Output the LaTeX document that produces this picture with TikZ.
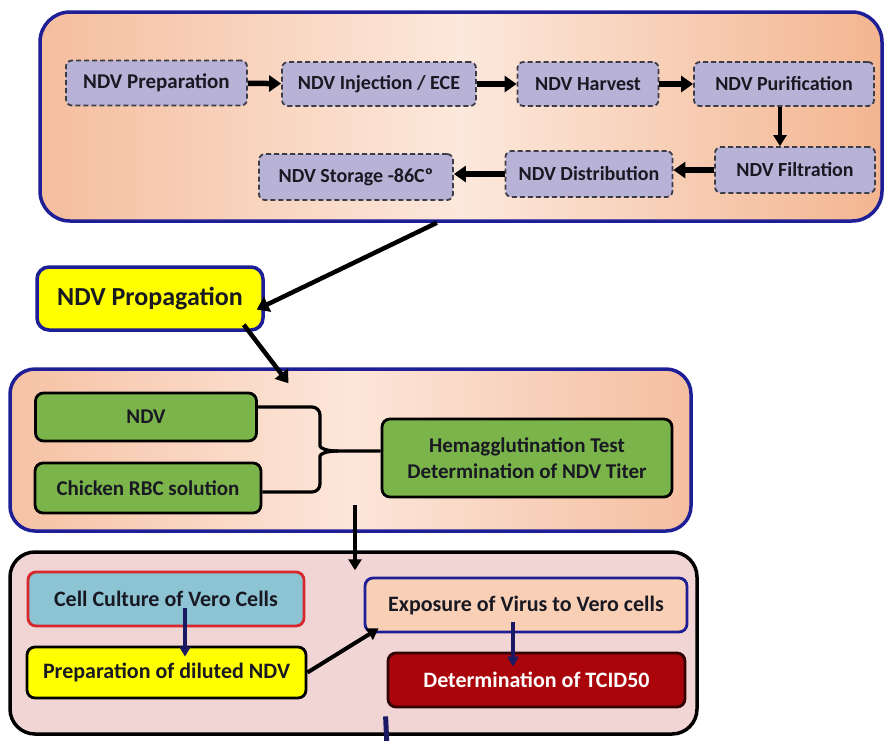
\documentclass[tikz,border=0pt]{standalone}
\usepackage{fontspec}
\setmainfont{Carlito}
\usetikzlibrary{arrows.meta,calc}
\definecolor{pblue}{RGB}{30,30,150}
\definecolor{lav}{RGB}{184,178,214}
\definecolor{dashgray}{RGB}{60,60,70}
\definecolor{txt}{RGB}{25,25,35}
\definecolor{gbox}{RGB}{122,180,74}
\definecolor{pinkbg}{RGB}{241,212,212}
\definecolor{cellblue}{RGB}{140,196,212}
\definecolor{cellred}{RGB}{215,40,45}
\definecolor{expofill}{RGB}{249,208,182}
\definecolor{tcidred}{RGB}{170,5,10}
\definecolor{navy}{RGB}{25,25,100}
\definecolor{propyel}{RGB}{255,255,0}
\definecolor{pL}{RGB}{245,190,158}
\definecolor{pM}{RGB}{252,232,220}
\definecolor{pR}{RGB}{243,181,144}
\definecolor{mL}{RGB}{246,194,164}
\definecolor{mM}{RGB}{252,230,218}
\definecolor{mR}{RGB}{245,190,160}
\begin{document}
\begin{tikzpicture}[x=1pt,y=-1pt,
  panel/.style={line width=3.5pt, inner sep=0pt},
  dbox/.style={draw=dashgray, dash pattern=on 5pt off 3pt, line width=1.8pt, fill=lav,
    rounded corners=6pt, inner sep=0pt, text=txt, font=\fontsize{20}{22}\selectfont\bfseries},
  gbx/.style={draw=black, line width=2.8pt, fill=gbox, rounded corners=8pt, inner sep=0pt,
    text=txt, font=\fontsize{21}{26}\selectfont\bfseries, align=center},
  bbx/.style={line width=2.8pt, rounded corners=8pt, inner sep=0pt,
    text=txt, font=\fontsize{22}{26}\selectfont\bfseries},
  thk/.style={line width=5.5pt, -{Triangle[length=12pt,width=16pt]}},
  mid arrow/.style={line width=4pt, -{Triangle[length=11pt,width=13pt]}},
  nv/.style={draw=navy, line width=4.5pt, -{Triangle[length=10pt,width=11pt]}},
]
\useasboundingbox (0,0) rectangle (885,740);
\fill[white] (0,0) rectangle (885,740);

% panels
\node[panel, draw=pblue, rounded corners=30pt, left color=pL, right color=pR, middle color=pM,
  minimum width=842pt, minimum height=209pt] (top) at (461,116.5) {};
\node[panel, draw=pblue, rounded corners=25pt, left color=mL, right color=mR, middle color=mM,
  minimum width=681pt, minimum height=162pt] (mid) at (350.5,450) {};
\node[panel, draw=black, rounded corners=25pt, fill=pinkbg,
  minimum width=687pt, minimum height=182pt] (bot) at (353.5,643) {};

% top row boxes
\node[dbox, minimum width=181pt, minimum height=45pt, font=\fontsize{21}{22}\selectfont\bfseries] (prep) at (156.5,83) {NDV Preparation};
\node[dbox, minimum width=194pt, minimum height=44pt] (inj) at (379,84) {NDV Injection / ECE};
\node[dbox, minimum width=141pt, minimum height=44pt] (harv) at (588,84) {NDV Harvest};
\node[dbox, minimum width=180pt, minimum height=44pt] (puri) at (784,84) {NDV Purification};
\node[dbox, minimum width=160pt, minimum height=46pt] (filt) at (795,170) {NDV Filtration};
\node[dbox, minimum width=167pt, minimum height=46pt] (dist) at (589,174) {NDV Distribution};
\node[dbox, minimum width=194pt, minimum height=46pt] (stor) at (356,177) {NDV Storage -86Cº};

\draw[thk] (prep) -- (inj);
\draw[thk] (inj) -- (harv);
\draw[thk] (harv) -- (puri);
\draw[mid arrow] (puri.south -| 780,0) -- (filt.north -| 780,0);
\draw[thk] (filt.west) -- (filt.west -| dist.east);
\draw[thk] (dist.west) -- (dist.west -| stor.east);

% propagation
\node[draw=pblue, line width=3.5pt, fill=propyel, rounded corners=12pt, inner sep=0pt,
  minimum width=226pt, minimum height=63pt, text=txt,
  font=\fontsize{26}{30}\selectfont\bfseries] (prop) at (150,298.5) {NDV Propagation};
\draw[thk, line width=4.5pt] ($(top.south west)!0.4715!(top.south east)$) -- ($(prop.east)+(-8,11)$);
\draw[thk, line width=4.5pt] ($(prop.south east)+(-21,-7)$) -- ($(mid.north)+(-62,16)$);

% middle panel
\node[gbx, minimum width=221pt, minimum height=48pt] (ndv) at (146,417) {NDV};
\node[gbx, minimum width=226pt, minimum height=50pt] (rbc) at (148,488) {Chicken RBC solution};
\node[gbx, minimum width=290pt, minimum height=78pt] (hem) at (527,458)
  {Hemagglutination Test\\Determination of NDV Titer};
\draw[line width=3.2pt, rounded corners=8pt] ($(ndv.east)+(0,-10)$) -- (320,407) -- (320,438)
  [sharp corners] .. controls (320,448) and (326,451) .. (338,451) -- (hem.west |- 0,451);
\draw[line width=3.2pt, rounded corners=8pt] ($(rbc.east)+(0,4)$) -- (320,492) -- (320,464)
  [sharp corners] .. controls (320,454) and (326,451) .. (338,451);
\draw[mid arrow] ($(mid.south)+(4.5,-28)$) -- ($(bot.north)+(1.5,20)$);

% bottom panel
\node[bbx, draw=cellred, fill=cellblue, minimum width=276pt, minimum height=54pt] (cell) at (166,599)
  {Cell Culture of Vero Cells};
\node[bbx, draw=black, fill=propyel, minimum width=279pt, minimum height=51pt] (prepd) at (166.5,672.5)
  {Preparation of diluted NDV};
\node[bbx, draw=pblue, fill=expofill, minimum width=322pt, minimum height=54pt] (expo) at (526,605)
  {Exposure of Virus to Vero cells};
\node[bbx, draw=black!70!tcidred, fill=tcidred, text=white, minimum width=297pt, minimum height=54pt] (tcid) at (536.5,680)
  {Determination of TCID50};

\draw[nv] ($(cell.center)+(19,9)$) -- ($(prepd.north)+(18.5,11)$);
\draw[nv] ($(expo.center)+(-13,17)$) -- ($(tcid.north)+(-23.5,15)$);
\draw[mid arrow] (prepd.east) -- ($(expo.south west)+(15,-5)$);
\draw[draw=navy, line width=5pt] ($(tcid.south west)+(-1,8)$) -- ($(bot.south)+(33.5,12)$);
\end{tikzpicture}
\end{document}
